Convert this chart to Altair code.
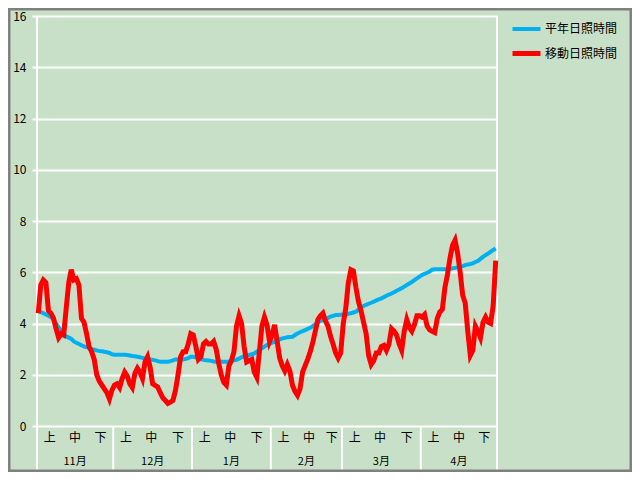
import altair as alt
import pandas as pd

months = ["11月", "12月", "1月", "2月", "3月", "4月"]
month_days = [30, 31, 31, 28, 31, 30]
decades = ["上", "中", "下"]
series_names = ["平年日照時間", "移動日照時間"]
y_ticks = [0, 2, 4, 6, 8, 10, 12, 14, 16]

# 平年日照時間 (normal), daily values Nov 1 - Apr 30
normal_nov = [4.5, 4.45, 4.4, 4.35, 4.3, 4.25, 4.15, 4.0, 3.85, 3.7, 3.6, 3.5, 3.45, 3.4, 3.3,
              3.25, 3.2, 3.15, 3.1, 3.08, 3.05, 3.0, 2.98, 2.95, 2.93, 2.92, 2.9, 2.88, 2.85, 2.8]
normal_dec = [2.78, 2.78, 2.78, 2.78, 2.78, 2.77, 2.75, 2.73, 2.72, 2.7, 2.68, 2.66, 2.64, 2.62, 2.6,
              2.58, 2.56, 2.53, 2.51, 2.51, 2.51, 2.51, 2.53, 2.56, 2.6, 2.6, 2.6, 2.6, 2.62, 2.65, 2.7]
normal_jan = [2.7, 2.68, 2.64, 2.6, 2.58, 2.57, 2.56, 2.54, 2.52, 2.51, 2.51, 2.51, 2.51, 2.51, 2.52,
              2.54, 2.56, 2.58, 2.63, 2.68, 2.72, 2.75, 2.77, 2.8, 2.83, 2.9, 2.97, 3.03, 3.1, 3.16, 3.2]
normal_feb = [3.25, 3.29, 3.33, 3.38, 3.42, 3.44, 3.46, 3.47, 3.48, 3.55, 3.61, 3.66, 3.7, 3.74,
              3.79, 3.83, 3.9, 3.97, 4.05, 4.1, 4.14, 4.17, 4.22, 4.27, 4.3, 4.33, 4.33, 4.34]
normal_mar = [4.35, 4.35, 4.38, 4.4, 4.43, 4.46, 4.55, 4.63, 4.68, 4.73, 4.77, 4.81, 4.85, 4.9, 4.94,
              4.98, 5.03, 5.08, 5.13, 5.17, 5.22, 5.28, 5.33, 5.38, 5.44, 5.5, 5.56, 5.62, 5.69, 5.76, 5.83]
normal_apr = [5.89, 5.94, 5.98, 6.03, 6.1, 6.12, 6.12, 6.12, 6.12, 6.12, 6.12, 6.13, 6.15, 6.17, 6.19,
              6.21, 6.24, 6.28, 6.3, 6.32, 6.35, 6.4, 6.44, 6.52, 6.6, 6.67, 6.73, 6.8, 6.87, 6.93]

# 移動日照時間 (moving), daily values Nov 1 - Apr 30
moving_nov = [4.4, 5.5, 5.7, 5.6, 4.5, 4.4, 4.2, 3.8, 3.45, 3.6, 3.55, 4.6, 5.6, 6.1, 5.7,
              5.75, 5.5, 4.2, 4.05, 3.6, 3.1, 2.9, 2.6, 2.0, 1.75, 1.6, 1.45, 1.3, 1.05, 1.4]
moving_dec = [1.6, 1.65, 1.5, 1.85, 2.1, 1.95, 1.65, 1.5, 2.05, 2.25, 2.1, 1.85, 2.5, 2.7, 2.3,
              1.65, 1.58, 1.52, 1.3, 1.1, 1.0, 0.88, 0.93, 1.0, 1.4, 2.0, 2.7, 2.9, 2.9, 3.2, 3.6]
moving_jan = [3.55, 3.1, 2.6, 2.7, 3.2, 3.3, 3.2, 3.2, 3.3, 3.0, 2.45, 2.0, 1.7, 1.6, 2.35,
              2.55, 2.9, 3.9, 4.3, 4.0, 3.1, 2.5, 2.55, 2.6, 2.1, 1.9, 2.9, 3.9, 4.25, 3.95, 3.3]
moving_feb = [3.55, 3.95, 3.3, 2.65, 2.35, 2.15, 2.4, 2.15, 1.6, 1.35, 1.2, 1.45, 2.1, 2.35,
              2.6, 2.9, 3.25, 3.7, 4.15, 4.3, 4.4, 4.1, 3.9, 3.5, 3.2, 2.85, 2.65, 2.85]
moving_mar = [4.0, 4.6, 5.6, 6.1, 6.05, 5.4, 4.85, 4.5, 4.05, 3.6, 2.75, 2.4, 2.55, 2.85, 2.85,
              3.1, 3.15, 2.95, 3.2, 3.8, 3.7, 3.55, 3.2, 2.95, 3.7, 4.15, 3.85, 3.7, 3.95, 4.3, 4.3]
moving_apr = [4.25, 4.35, 3.9, 3.75, 3.7, 3.65, 4.2, 4.45, 4.55, 5.4, 5.9, 6.55, 7.05, 7.25, 6.75,
              6.0, 5.1, 4.8, 3.7, 2.75, 2.95, 3.9, 3.7, 3.45, 4.05, 4.25, 4.05, 4.0, 4.7, 6.45]

normal = normal_nov + normal_dec + normal_jan + normal_feb + normal_mar + normal_apr
moving = moving_nov + moving_dec + moving_jan + moving_feb + moving_mar + moving_apr
n_days = len(normal)

rows = []
for i, v in enumerate(normal):
    rows.append({"pos": i + 0.5, "series": series_names[0], "value": v})
for i, v in enumerate(moving):
    rows.append({"pos": i + 0.5, "series": series_names[1], "value": v})
df = pd.DataFrame(rows)

# month boundaries and axis labels
bounds = [0]
for d in month_days:
    bounds.append(bounds[-1] + d)
bound_df = pd.DataFrame({
    "pos": bounds,
    "top": [16 if (k == 0 or k == len(bounds) - 1) else 0 for k in range(len(bounds))],
})
sub_rows = []
month_rows = []
for m, s, L in zip(months, bounds[:-1], month_days):
    sub_rows.append({"pos": s + 5, "label": decades[0]})
    sub_rows.append({"pos": s + 15, "label": decades[1]})
    sub_rows.append({"pos": s + (20 + L) / 2, "label": decades[2]})
    month_rows.append({"pos": s + L / 2, "label": m})
sub_df = pd.DataFrame(sub_rows)
month_df = pd.DataFrame(month_rows)

W, H = 460, 410
FONT = "Noto Sans CJK JP"
BG = "#C8E0C8"

xscale = alt.Scale(domain=[0, n_days], nice=False, zero=False)
yscale = alt.Scale(domain=[0, 16], nice=False)

lines = alt.Chart(df).mark_line(interpolate="linear").encode(
    x=alt.X("pos:Q", scale=xscale, axis=None),
    y=alt.Y("value:Q", scale=yscale, title=None,
            axis=alt.Axis(values=y_ticks, format="d", domain=False, grid=True,
                          gridColor="white", gridWidth=2, gridOpacity=1,
                          tickColor="white", tickWidth=2, tickSize=5,
                          labelFont=FONT, labelFontSize=12, labelColor="#000000",
                          labelPadding=6)),
    color=alt.Color("series:N", scale=alt.Scale(domain=series_names, range=["#00B0F0", "#FF0000"]),
                    sort=series_names,
                    legend=alt.Legend(title=None, orient="none", legendX=473, legendY=-3,
                                      symbolType="stroke", symbolSize=784, symbolStrokeWidth=4,
                                      labelFont=FONT, labelFontSize=12, labelColor="#000000",
                                      labelOffset=2, rowPadding=-3)),
    strokeWidth=alt.StrokeWidth("series:N", scale=alt.Scale(domain=series_names, range=[4, 5]), legend=None),
    order=alt.Order("pos:Q"),
)

bound_rules = alt.Chart(bound_df).mark_rule(color="white", strokeWidth=2).encode(
    x=alt.X("pos:Q", scale=xscale, axis=None),
    y=alt.Y("top:Q", scale=yscale),
    y2=alt.value(H + 44),
)

sub_text = alt.Chart(sub_df).mark_text(font=FONT, fontSize=12, color="#000000", baseline="middle").encode(
    x=alt.X("pos:Q", scale=xscale, axis=None),
    y=alt.value(H + 12),
    text="label:N",
)
month_text = alt.Chart(month_df).mark_text(font=FONT, fontSize=11, color="#000000", baseline="middle").encode(
    x=alt.X("pos:Q", scale=xscale, axis=None),
    y=alt.value(H + 36),
    text="label:N",
)

frame = alt.Chart(pd.DataFrame({"a": [0]})).mark_rect(fillOpacity=0, stroke="#808080", strokeWidth=3).encode(
    x=alt.value(-28), x2=alt.value(W + 134), y=alt.value(-7), y2=alt.value(H + 45),
)

chart = alt.layer(bound_rules, sub_text, month_text, lines, frame).properties(
    width=W, height=H,
    autosize=alt.AutoSizeParams(type="none"),
    padding={"left": 29, "top": 8, "right": 135, "bottom": 46},
    background=BG,
).configure_view(stroke=None, fill=BG)

chart.save("out.html", embed_options={"renderer": "svg", "actions": False})
